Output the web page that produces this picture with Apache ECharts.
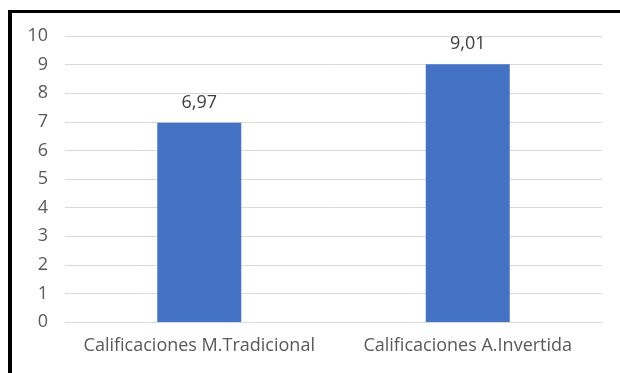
<!DOCTYPE html>
<html>
<head>
<meta charset="utf-8">
<script src="https://cdn.jsdelivr.net/npm/echarts@6/dist/echarts.min.js"></script>
<style>
  html, body { margin: 0; padding: 0; background: #fff; }
  #chart { width: 620px; height: 373px; }
</style>
</head>
<body>
<div id="chart"></div>
<script>
var categories = ['Calificaciones M.Tradicional', 'Calificaciones A.Invertida'];
var scores = [6.97, 9.01];

window.onload = function () {
    var myChart = echarts.init(document.getElementById('chart'));
    var option = {
        animation: false,
        textStyle: { fontFamily: 'Open Sans' },
        grid: { left: 65, right: 18, top: 36, bottom: 51 },
        graphic: [
            { type: 'rect', shape: { x: 8, y: 10, width: 612, height: 3 }, style: { fill: '#000' } },
            { type: 'rect', shape: { x: 8, y: 10, width: 4, height: 363 }, style: { fill: '#000' } }
        ],
        xAxis: {
            type: 'category',
            data: categories,
            axisLine: { lineStyle: { color: '#d9d9d9' } },
            axisTick: { show: false },
            axisLabel: { color: '#595959', fontSize: 18, margin: 15, interval: 0, hideOverlap: false }
        },
        yAxis: {
            type: 'value',
            min: 0,
            max: 10,
            interval: 1,
            axisLabel: { color: '#595959', fontSize: 18, margin: 17 },
            splitLine: { lineStyle: { color: '#d9d9d9' } }
        },
        series: [{
            type: 'bar',
            data: scores,
            barWidth: 84,
            itemStyle: { color: '#4472C4' },
            label: {
                show: true,
                position: 'top',
                distance: 11,
                color: '#404040',
                fontSize: 18,
                formatter: function (p) { return p.value.toFixed(2).replace('.', ','); }
            }
        }]
    };
    myChart.setOption(option);
};
</script>
</body>
</html>
